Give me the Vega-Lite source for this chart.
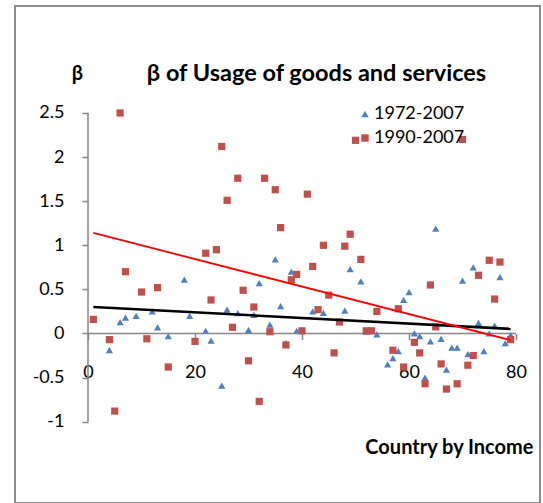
{
  "$schema": "https://vega.github.io/schema/vega-lite/v6.json",
  "width": 525,
  "height": 497,
  "autosize": {"type": "none"},
  "padding": {"left": 15, "top": 6, "right": 3, "bottom": 0},
  "background": "white",
  "config": {
    "view": {"stroke": "#8c8c8c", "strokeWidth": 2},
    "font": "Lato",
    "axis": {"grid": false}
  },
  "title": {
    "text": "β of Usage of goods and services",
    "font": "Lato",
    "fontSize": 23.5,
    "fontWeight": "bold",
    "color": "#000000",
    "anchor": "middle",
    "dx": 39,
    "offset": -98,
    "baseline": "alphabetic"
  },
  "datasets": {
    "points": [
      {"series": "1972-2007", "x": 4, "y": -0.19},
      {"series": "1972-2007", "x": 6, "y": 0.13},
      {"series": "1972-2007", "x": 7, "y": 0.18},
      {"series": "1972-2007", "x": 9, "y": 0.2},
      {"series": "1972-2007", "x": 12, "y": 0.25},
      {"series": "1972-2007", "x": 13, "y": 0.07},
      {"series": "1972-2007", "x": 15, "y": -0.03},
      {"series": "1972-2007", "x": 18, "y": 0.61},
      {"series": "1972-2007", "x": 19, "y": 0.2},
      {"series": "1972-2007", "x": 22, "y": 0.03},
      {"series": "1972-2007", "x": 23, "y": -0.08},
      {"series": "1972-2007", "x": 25, "y": -0.59},
      {"series": "1972-2007", "x": 26, "y": 0.27},
      {"series": "1972-2007", "x": 28, "y": 0.23},
      {"series": "1972-2007", "x": 30, "y": 0.04},
      {"series": "1972-2007", "x": 31, "y": 0.21},
      {"series": "1972-2007", "x": 32, "y": 0.57},
      {"series": "1972-2007", "x": 34, "y": 0.1},
      {"series": "1972-2007", "x": 35, "y": 0.84},
      {"series": "1972-2007", "x": 36, "y": 0.31},
      {"series": "1972-2007", "x": 37, "y": -0.11},
      {"series": "1972-2007", "x": 38, "y": 0.7},
      {"series": "1972-2007", "x": 39, "y": 0.03},
      {"series": "1972-2007", "x": 42, "y": 0.25},
      {"series": "1972-2007", "x": 44, "y": 0.235},
      {"series": "1972-2007", "x": 48, "y": 0.26},
      {"series": "1972-2007", "x": 49, "y": 0.73},
      {"series": "1972-2007", "x": 51, "y": 0.59},
      {"series": "1972-2007", "x": 52, "y": 0.02},
      {"series": "1972-2007", "x": 54, "y": -0.01},
      {"series": "1972-2007", "x": 56, "y": -0.35},
      {"series": "1972-2007", "x": 57, "y": -0.28},
      {"series": "1972-2007", "x": 58, "y": -0.2},
      {"series": "1972-2007", "x": 59, "y": 0.38},
      {"series": "1972-2007", "x": 60, "y": 0.47},
      {"series": "1972-2007", "x": 61, "y": 0.0},
      {"series": "1972-2007", "x": 62, "y": -0.03},
      {"series": "1972-2007", "x": 63, "y": -0.5},
      {"series": "1972-2007", "x": 64, "y": -0.09},
      {"series": "1972-2007", "x": 65, "y": 1.19},
      {"series": "1972-2007", "x": 66, "y": -0.06},
      {"series": "1972-2007", "x": 67, "y": -0.41},
      {"series": "1972-2007", "x": 68, "y": -0.16},
      {"series": "1972-2007", "x": 69, "y": -0.16},
      {"series": "1972-2007", "x": 70, "y": 0.6},
      {"series": "1972-2007", "x": 71, "y": -0.235},
      {"series": "1972-2007", "x": 72, "y": 0.75},
      {"series": "1972-2007", "x": 73, "y": 0.12},
      {"series": "1972-2007", "x": 74, "y": -0.2},
      {"series": "1972-2007", "x": 75, "y": 0.0},
      {"series": "1972-2007", "x": 76, "y": 0.09},
      {"series": "1972-2007", "x": 77, "y": 0.64},
      {"series": "1972-2007", "x": 78, "y": -0.11},
      {"series": "1972-2007", "x": 79, "y": -0.02},
      {"series": "1990-2007", "x": 1, "y": 0.16},
      {"series": "1990-2007", "x": 4, "y": -0.07},
      {"series": "1990-2007", "x": 5, "y": -0.88},
      {"series": "1990-2007", "x": 6, "y": 2.5},
      {"series": "1990-2007", "x": 7, "y": 0.7},
      {"series": "1990-2007", "x": 10, "y": 0.47},
      {"series": "1990-2007", "x": 11, "y": -0.06},
      {"series": "1990-2007", "x": 13, "y": 0.52},
      {"series": "1990-2007", "x": 15, "y": -0.38},
      {"series": "1990-2007", "x": 20, "y": -0.09},
      {"series": "1990-2007", "x": 22, "y": 0.91},
      {"series": "1990-2007", "x": 23, "y": 0.38},
      {"series": "1990-2007", "x": 24, "y": 0.95},
      {"series": "1990-2007", "x": 25, "y": 2.12},
      {"series": "1990-2007", "x": 26, "y": 1.51},
      {"series": "1990-2007", "x": 27, "y": 0.07},
      {"series": "1990-2007", "x": 28, "y": 1.76},
      {"series": "1990-2007", "x": 29, "y": 0.49},
      {"series": "1990-2007", "x": 30, "y": -0.31},
      {"series": "1990-2007", "x": 31, "y": 0.3},
      {"series": "1990-2007", "x": 32, "y": -0.77},
      {"series": "1990-2007", "x": 33, "y": 1.76},
      {"series": "1990-2007", "x": 34, "y": 0.02},
      {"series": "1990-2007", "x": 35, "y": 1.63},
      {"series": "1990-2007", "x": 36, "y": 1.2},
      {"series": "1990-2007", "x": 37, "y": -0.13},
      {"series": "1990-2007", "x": 38, "y": 0.61},
      {"series": "1990-2007", "x": 39, "y": 0.67},
      {"series": "1990-2007", "x": 40, "y": 0.03},
      {"series": "1990-2007", "x": 41, "y": 1.58},
      {"series": "1990-2007", "x": 42, "y": 0.76},
      {"series": "1990-2007", "x": 43, "y": 0.27},
      {"series": "1990-2007", "x": 44, "y": 1.0},
      {"series": "1990-2007", "x": 45, "y": 0.435},
      {"series": "1990-2007", "x": 46, "y": -0.22},
      {"series": "1990-2007", "x": 47, "y": 0.13},
      {"series": "1990-2007", "x": 48, "y": 0.99},
      {"series": "1990-2007", "x": 49, "y": 1.125},
      {"series": "1990-2007", "x": 50, "y": 2.19},
      {"series": "1990-2007", "x": 51, "y": 0.84},
      {"series": "1990-2007", "x": 52, "y": 0.03},
      {"series": "1990-2007", "x": 53, "y": 0.03},
      {"series": "1990-2007", "x": 54, "y": 0.25},
      {"series": "1990-2007", "x": 57, "y": -0.19},
      {"series": "1990-2007", "x": 58, "y": 0.28},
      {"series": "1990-2007", "x": 59, "y": -0.38},
      {"series": "1990-2007", "x": 61, "y": -0.1},
      {"series": "1990-2007", "x": 62, "y": -0.22},
      {"series": "1990-2007", "x": 63, "y": -0.57},
      {"series": "1990-2007", "x": 64, "y": 0.55},
      {"series": "1990-2007", "x": 65, "y": 0.075},
      {"series": "1990-2007", "x": 66, "y": -0.345},
      {"series": "1990-2007", "x": 67, "y": -0.63},
      {"series": "1990-2007", "x": 69, "y": -0.57},
      {"series": "1990-2007", "x": 70, "y": 2.2},
      {"series": "1990-2007", "x": 71, "y": -0.36},
      {"series": "1990-2007", "x": 72, "y": -0.25},
      {"series": "1990-2007", "x": 73, "y": 0.66},
      {"series": "1990-2007", "x": 75, "y": 0.83},
      {"series": "1990-2007", "x": 76, "y": 0.39},
      {"series": "1990-2007", "x": 77, "y": 0.81},
      {"series": "1990-2007", "x": 79, "y": -0.07}
    ],
    "trend": [
      {"series": "1972-2007", "x": 1, "y": 0.3},
      {"series": "1972-2007", "x": 79, "y": 0.052},
      {"series": "1990-2007", "x": 1, "y": 1.14},
      {"series": "1990-2007", "x": 79, "y": -0.076}
    ],
    "axisLines": [
      {"x": 0, "x2": 0, "y": -1, "y2": 2.5},
      {"x": 0, "x2": 80, "y": 0, "y2": 0}
    ]
  },
  "layer": [
    {
      "data": {"name": "axisLines"},
      "mark": {"type": "rule", "color": "#868686", "strokeWidth": 1.5},
      "encoding": {
        "x": {"field": "x", "type": "quantitative"},
        "x2": {"field": "x2"},
        "y": {"field": "y", "type": "quantitative"},
        "y2": {"field": "y2"}
      }
    },
    {
      "data": {"name": "points"},
      "mark": {"type": "point", "filled": true, "opacity": 1, "size": 52},
      "encoding": {
        "x": {
          "field": "x",
          "type": "quantitative",
          "scale": {"domain": [-13.645, 84.486], "nice": false, "zero": false},
          "axis": {
            "orient": "bottom",
            "offset": -169.5,
            "values": [0, 20, 40, 60, 80],
            "domain": false,
            "ticks": true,
            "tickColor": "#868686",
            "tickSize": 6,
            "tickWidth": 1.5,
            "labelFont": "Lato",
            "labelFontSize": 18,
            "labelColor": "#000000",
            "labelPadding": 24,
            "labelFlush": false,
            "labelOverlap": false,
            "labelExpr": "'' + datum.value",
            "title": "Country by Income",
            "titleFont": "Lato",
            "titleFontSize": 20,
            "titleFontWeight": "bold",
            "titleColor": "#000000",
            "titleX": 518,
            "titleY": 120,
            "titleAlign": "right",
            "titleBaseline": "alphabetic"
          }
        },
        "y": {
          "field": "y",
          "type": "quantitative",
          "scale": {"domain": [-1.922, 3.713], "nice": false, "zero": false},
          "axis": {
            "orient": "left",
            "offset": -73,
            "values": [-1, -0.5, 0, 0.5, 1, 1.5, 2, 2.5],
            "domain": false,
            "tickColor": "#868686",
            "tickSize": 6,
            "tickWidth": 1.5,
            "labelFont": "Lato",
            "labelFontSize": 18,
            "labelColor": "#000000",
            "labelPadding": 18,
            "labelFlush": false,
            "labelOverlap": false,
            "labelExpr": "'' + datum.value",
            "title": "β",
            "titleAngle": 0,
            "titleFont": "Lato",
            "titleFontSize": 20,
            "titleFontWeight": "bold",
            "titleColor": "#000000",
            "titleX": -11,
            "titleY": 73,
            "titleAlign": "center",
            "titleBaseline": "alphabetic"
          }
        },
        "shape": {
          "field": "series",
          "type": "nominal",
          "scale": {"domain": ["1972-2007", "1990-2007"], "range": ["triangle-up", "square"]},
          "legend": {"orient": "none", "legendX": 341, "legendY": 99, "title": null, "padding": 0, "labelFont": "Lato", "labelFontSize": 18, "labelColor": "#000000", "labelOffset": 0, "rowPadding": 6, "symbolSize": 55}
        },
        "color": {
          "field": "series",
          "type": "nominal",
          "scale": {"domain": ["1972-2007", "1990-2007"], "range": ["#4F81BD", "#C0504D"]},
          "legend": {"orient": "none", "legendX": 341, "legendY": 99, "title": null, "padding": 0, "labelFont": "Lato", "labelFontSize": 18, "labelColor": "#000000", "labelOffset": 0, "rowPadding": 6, "symbolSize": 55}
        }
      }
    },
    {
      "data": {"name": "trend"},
      "transform": [{"filter": "datum.series === '1972-2007'"}],
      "mark": {"type": "line", "color": "#000000", "strokeWidth": 2.6},
      "encoding": {
        "x": {"field": "x", "type": "quantitative"},
        "y": {"field": "y", "type": "quantitative"}
      }
    },
    {
      "data": {"name": "trend"},
      "transform": [{"filter": "datum.series === '1990-2007'"}],
      "mark": {"type": "line", "color": "#FF0000", "strokeWidth": 1.8},
      "encoding": {
        "x": {"field": "x", "type": "quantitative"},
        "y": {"field": "y", "type": "quantitative"}
      }
    }
  ]
}
